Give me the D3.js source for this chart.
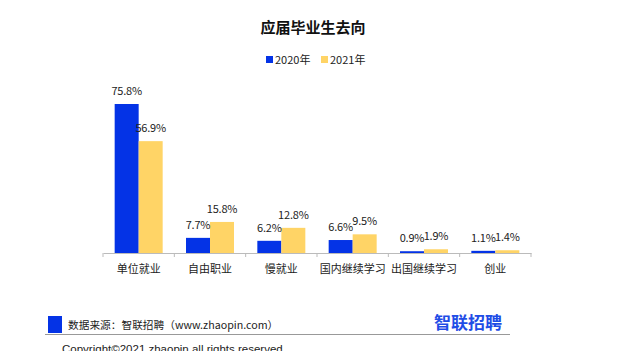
<!DOCTYPE html>
<html lang="zh">
<head>
<meta charset="UTF-8">
<title>应届毕业生去向</title>
<script src="https://cdn.jsdelivr.net/npm/d3@7"></script>
<style>
    body{ margin:0; background:#fff; }
    svg{ display:block; font-family:"Noto Sans CJK SC", sans-serif; }
</style>
</head>
<body>
<script>
    // data
    const categories = ["单位就业", "自由职业", "慢就业", "国内继续学习", "出国继续学习", "创业"]
    const years = ["2020年", "2021年"]
    const values2020 = [75.8, 7.7, 6.2, 6.6, 0.9, 1.1]
    const values2021 = [56.9, 15.8, 12.8, 9.5, 1.9, 1.4]
    const colors = ["#0433e6", "#ffd466"]

    const size = {width: 640, height: 351}
    const svg = d3.select("body").append("svg")
        .attr("width", size.width).attr("height", size.height)

    const x = d3.scaleBand().domain(categories).range([103, 531])
    const sub = d3.scaleBand().domain(years).range([x.bandwidth()/2 - 24, x.bandwidth()/2 + 24])
    const y = d3.scaleLinear().domain([0, 75.8]).range([253, 104])

    // title
    svg.append("text")
        .attr("x", 313).attr("y", 33)
        .attr("text-anchor", "middle")
        .attr("font-size", 15).attr("font-weight", "bold")
        .attr("fill", "#111")
        .text("应届毕业生去向")

    // legend
    const legend = svg.append("g").attr("transform", "translate(266,60)")
    years.forEach((yr, i) => {
        const g = legend.append("g").attr("transform", `translate(${i*55},0)`)
        g.append("rect").attr("x", 0).attr("y", -4).attr("width", 7).attr("height", 7).attr("fill", colors[i])
        g.append("text").attr("x", 9).attr("y", 4).attr("font-size", 11).attr("fill", "#222").text(yr)
    })

    // bars
    const rows = categories.map((c, i) => ({cat: c, vals: [values2020[i], values2021[i]]}))
    const groups = svg.selectAll(".grp").data(rows).enter().append("g")
        .attr("class", "grp")
        .attr("transform", d => `translate(${x(d.cat)},0)`)

    groups.selectAll("rect").data(d => d.vals.map((v, i) => ({v, yr: years[i], i})))
        .enter().append("rect")
        .attr("x", d => sub(d.yr))
        .attr("width", sub.bandwidth())
        .attr("y", d => y(d.v))
        .attr("height", d => y(0) - y(d.v))
        .attr("fill", d => colors[d.i])

    groups.selectAll(".lbl").data(d => d.vals.map((v, i) => ({v, yr: years[i], i})))
        .enter().append("text")
        .attr("class", "lbl")
        .attr("x", d => sub(d.yr) + sub.bandwidth()/2)
        .attr("y", d => y(d.v) - 9)
        .attr("text-anchor", "middle")
        .attr("font-size", 11)
        .attr("letter-spacing", -0.2)
        .attr("fill", "#222")
        .text(d => d.v.toFixed(1) + "%")

    // axis
    const axis = svg.append("g").attr("transform", `translate(0,${y(0)})`)
        .call(d3.axisBottom(x).tickSize(0).tickPadding(12))
    axis.select(".domain").attr("stroke", "#bbb")
    axis.selectAll(".tick text").attr("font-size", 11).attr("fill", "#222")
        .attr("font-family", "Noto Sans CJK SC, sans-serif")
    const edges = categories.map(c => x(c)).concat([x.range()[1]])
    axis.selectAll(".edge").data(edges).enter().append("line")
        .attr("x1", d => d).attr("x2", d => d).attr("y1", 0).attr("y2", 4)
        .attr("stroke", "#bbb")

    // footer
    svg.append("rect").attr("x", 48).attr("y", 316).attr("width", 14).attr("height", 17).attr("fill", "#0433e6")
    svg.append("text").attr("x", 68).attr("y", 329).attr("font-size", 10.7).attr("fill", "#222")
        .text("数据来源：智联招聘（www.zhaopin.com）")
    svg.append("line").attr("x1", 45).attr("x2", 510).attr("y1", 334.5).attr("y2", 334.5)
        .attr("stroke", "#999").attr("stroke-width", 1)
    svg.append("text").attr("x", 502).attr("y", 329).attr("text-anchor", "end")
        .attr("font-size", 17).attr("font-weight", "bold").attr("fill", "#1f4de6")
        .text("智联招聘")
    svg.append("text").attr("x", 62).attr("y", 353)
        .attr("font-family", "Liberation Sans, Arial, sans-serif")
        .attr("font-size", 11.5).attr("fill", "#222")
        .text("Copyright©2021 zhaopin all rights reserved")
</script>
</body>
</html>
